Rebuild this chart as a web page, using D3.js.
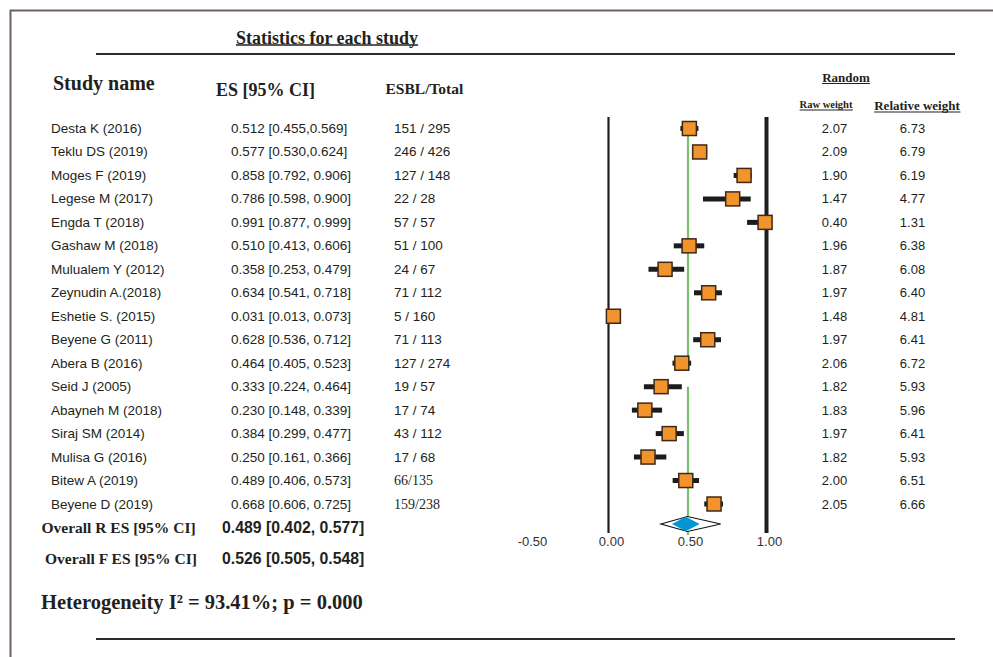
<!DOCTYPE html>
<html>
<head>
<meta charset="utf-8">
<script src="https://cdn.jsdelivr.net/npm/d3@7"></script>
<style>
  body { margin: 0; background: #fff; }
  svg { display: block; }
</style>
</head>
<body>
<svg id="chart" width="993" height="657"></svg>
<script>
// study data
const studies = ["Desta K (2016)", "Teklu DS (2019)", "Moges F (2019)", "Legese M (2017)",
  "Engda T (2018)", "Gashaw M (2018)", "Mulualem Y (2012)", "Zeynudin A.(2018)",
  "Eshetie S. (2015)", "Beyene G (2011)", "Abera B (2016)", "Seid J (2005)",
  "Abayneh M (2018)", "Siraj SM (2014)", "Mulisa G (2016)", "Bitew A (2019)", "Beyene D (2019)"];
const es    = [0.512, 0.577, 0.858, 0.786, 0.991, 0.510, 0.358, 0.634, 0.031, 0.628, 0.464, 0.333, 0.230, 0.384, 0.250, 0.489, 0.668];
const lower = [0.455, 0.530, 0.792, 0.598, 0.877, 0.413, 0.253, 0.541, 0.013, 0.536, 0.405, 0.224, 0.148, 0.299, 0.161, 0.406, 0.606];
const upper = [0.569, 0.624, 0.906, 0.900, 0.999, 0.606, 0.479, 0.718, 0.073, 0.712, 0.523, 0.464, 0.339, 0.477, 0.366, 0.573, 0.725];
const esText = ["0.512 [0.455,0.569]", "0.577 [0.530,0.624]", "0.858 [0.792, 0.906]", "0.786 [0.598, 0.900]",
  "0.991 [0.877, 0.999]", "0.510 [0.413, 0.606]", "0.358 [0.253, 0.479]", "0.634 [0.541, 0.718]",
  "0.031 [0.013, 0.073]", "0.628 [0.536, 0.712]", "0.464 [0.405, 0.523]", "0.333 [0.224, 0.464]",
  "0.230 [0.148, 0.339]", "0.384 [0.299, 0.477]", "0.250 [0.161, 0.366]", "0.489 [0.406, 0.573]",
  "0.668 [0.606, 0.725]"];
const esbl = ["151 / 295", "246 / 426", "127 / 148", "22 / 28", "57 / 57", "51 / 100", "24 / 67",
  "71 / 112", "5 / 160", "71 / 113", "127 / 274", "19 / 57", "17 / 74", "43 / 112", "17 / 68",
  "66/135", "159/238"];
const rawWeight = ["2.07", "2.09", "1.90", "1.47", "0.40", "1.96", "1.87", "1.97", "1.48", "1.97",
  "2.06", "1.82", "1.83", "1.97", "1.82", "2.00", "2.05"];
const relWeight = ["6.73", "6.79", "6.19", "4.77", "1.31", "6.38", "6.08", "6.40", "4.81", "6.41",
  "6.72", "5.93", "5.96", "6.41", "5.93", "6.51", "6.66"];

const overallLabels = ["Overall R ES [95% CI]", "Overall F ES [95% CI]"];
const overallText = ["0.489 [0.402, 0.577]", "0.526 [0.505, 0.548]"];
const randomDiamond = [0.402, 0.489, 0.577];   // lower, ES, upper
const outerDiamond = [0.332, 0.500, 0.710];
const meanLine = 0.503;                         // green vertical line
const tickValues = [-0.5, 0, 0.5, 1];
const tickLabels = ["-0.50", "0.00", "0.50", "1.00"];

const serif = "'Liberation Serif', 'Times New Roman', serif";
const sans = "'Liberation Sans', Arial, sans-serif";
const ink = "#231f20";

const svg = d3.select('#chart');

const x = d3.scaleLinear().domain([0, 1]).range([608.5, 766.5]);
const y = d3.scalePoint().domain(studies).range([128.5, 504]);

// frame
svg.append('path')
  .attr('d', 'M10.5,657 L10.5,10.5 L993,10.5')
  .attr('fill', 'none')
  .attr('stroke', '#6e625a')
  .attr('stroke-width', 2);

// horizontal rules
[54, 639].forEach(function(yy) {
  svg.append('line')
    .attr('x1', 96).attr('x2', 955)
    .attr('y1', yy).attr('y2', yy)
    .attr('stroke', '#2b2b2b')
    .attr('stroke-width', 2);
});

function underlined(txt, cx, cy, size, gap, anchor) {
  const t = svg.append('text')
    .attr('x', cx).attr('y', cy)
    .attr('text-anchor', anchor || 'middle')
    .attr('dominant-baseline', 'central')
    .attr('font-family', serif)
    .attr('font-weight', 'bold')
    .attr('font-size', size)
    .attr('fill', ink)
    .text(txt);
  const b = t.node().getBBox();
  svg.append('line')
    .attr('x1', b.x).attr('x2', b.x + b.width)
    .attr('y1', cy + gap).attr('y2', cy + gap)
    .attr('stroke', ink)
    .attr('stroke-width', size > 14 ? 1.6 : 1.2);
}

function label(txt, xx, yy, size, font, weight, anchor) {
  return svg.append('text')
    .attr('x', xx).attr('y', yy)
    .attr('text-anchor', anchor || 'start')
    .attr('dominant-baseline', 'central')
    .attr('font-family', font)
    .attr('font-weight', weight || 'normal')
    .attr('font-size', size)
    .attr('fill', ink)
    .text(txt);
}

// headers
underlined('Statistics for each study', 327, 38, 18, 7);
label('Study name', 53, 82.5, 20, serif, 'bold');
label('ES [95% CI]', 216, 90, 18, serif, 'bold');
label('ESBL/Total', 385.5, 88.5, 15.5, serif, 'bold');
underlined('Random', 846, 77, 13, 6.5);
underlined('Raw weight', 826, 104, 10.5, 6);
underlined('Relative weight', 917, 105.5, 13, 6.5);

// study rows
const rows = svg.append('g');
studies.forEach(function(s, i) {
  const yy = y(s);
  label(s, 51, yy, 13.5, sans);
  label(esText[i], 231, yy, 13.5, sans);
  const late = i >= 15;
  label(esbl[i], 394, yy, late ? 14 : 13.5, late ? serif : sans);
  label(rawWeight[i], 834.5, yy, 13, sans, 'normal', 'middle');
  label(relWeight[i], 912.5, yy, 13, sans, 'normal', 'middle');
});

// overall rows
const overallY = [527, 558];
label(overallLabels[0], 41.5, overallY[0], 15.5, serif, 'bold');
label(overallLabels[1], 45, overallY[1], 15.5, serif, 'bold');
label(overallText[0], 222, overallY[0], 15.8, sans, 'bold');
label(overallText[1], 222, overallY[1], 15.8, sans, 'bold');

label('Heterogeneity I\u00b2 = 93.41%; p = 0.000', 41, 602, 20.5, serif, 'bold');

// forest plot
const plot = svg.append('g');

// reference lines at 0 and 1
plot.append('line')
  .attr('x1', x(0)).attr('x2', x(0))
  .attr('y1', 117).attr('y2', 533)
  .attr('stroke', '#1e1e1e').attr('stroke-width', 2.2);
plot.append('line')
  .attr('x1', x(1)).attr('x2', x(1))
  .attr('y1', 117).attr('y2', 533)
  .attr('stroke', '#1e1e1e').attr('stroke-width', 4);

// green mean line (with a gap between Abera and Seid)
const green = [[y(studies[0]), y(studies[10]) + 7.5], [y(studies[11]), 535]];
green.forEach(function(seg) {
  plot.append('line')
    .attr('x1', x(meanLine)).attr('x2', x(meanLine))
    .attr('y1', seg[0]).attr('y2', seg[1])
    .attr('stroke', '#7cc16e').attr('stroke-width', 2.2);
});

// CI bars
plot.selectAll('line.ci')
  .data(studies)
  .join('line')
  .attr('class', 'ci')
  .attr('x1', (d, i) => x(lower[i]))
  .attr('x2', (d, i) => x(upper[i]))
  .attr('y1', d => y(d))
  .attr('y2', d => y(d))
  .attr('stroke', '#1c1c1c')
  .attr('stroke-width', 5);

// squares
const sq = 14;
plot.selectAll('rect.es')
  .data(studies)
  .join('rect')
  .attr('class', 'es')
  .attr('x', (d, i) => x(es[i]) - sq / 2)
  .attr('y', d => y(d) - sq / 2)
  .attr('width', sq)
  .attr('height', sq)
  .attr('fill', '#f2942e')
  .attr('stroke', '#3f2814')
  .attr('stroke-width', 1.5);

// diamonds
function diamond(v, cy, h) {
  return 'M' + x(v[0]) + ',' + cy + ' L' + x(v[1]) + ',' + (cy - h) +
    ' L' + x(v[2]) + ',' + cy + ' L' + x(v[1]) + ',' + (cy + h) + ' Z';
}
const dy = 524;
plot.append('path')
  .attr('d', diamond(outerDiamond, dy, 7.5))
  .attr('fill', '#fff')
  .attr('stroke', '#111')
  .attr('stroke-width', 1.2);
plot.append('path')
  .attr('d', diamond(randomDiamond, dy, 7.2))
  .attr('fill', '#0095d5');

// axis labels
const xAxis = d3.axisBottom(x)
  .tickValues(tickValues)
  .tickSize(0)
  .tickFormat((d, i) => tickLabels[i]);

const ax = svg.append('g')
  .attr('transform', 'translate(0,541)')
  .call(xAxis);
ax.select('.domain').remove();
ax.selectAll('text')
  .attr('y', 0)
  .attr('x', 2.5)
  .attr('dy', '0.35em')
  .attr('font-family', sans)
  .attr('font-size', 13)
  .attr('fill', '#333');
</script>
</body>
</html>
